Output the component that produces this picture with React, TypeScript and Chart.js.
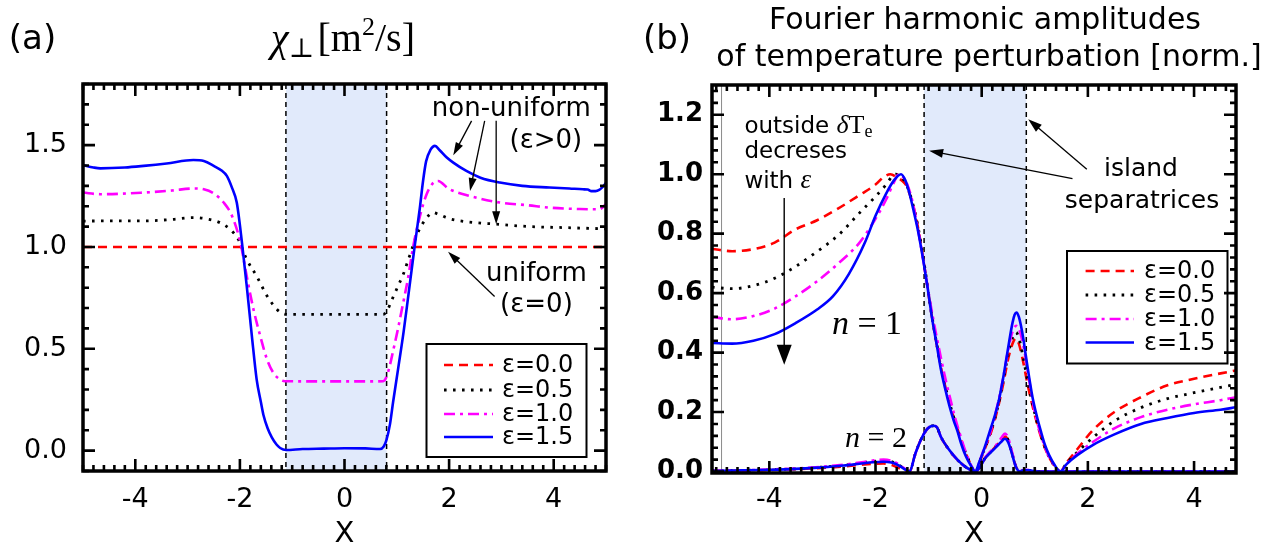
import React, { useEffect, useRef } from 'react';
import { Chart, registerables } from 'chart.js';

Chart.register(...registerables);

const SANS = '"DejaVu Sans", "Noto Sans", sans-serif';
const SERIF = '"Liberation Serif", "DejaVu Serif", serif';

// ---------------- shared ----------------
const xTickValues = [-4, -2, 0, 2, 4];
const legendLabels = ['ε=0.0', 'ε=0.5', 'ε=1.0', 'ε=1.5'];
const seriesColors = ['#ff0000', '#000000', '#ff00ff', '#0000ff'];
const seriesDash: number[][] = [[9, 6], [2.6, 6.4], [11, 5, 3, 5], []];
const seriesWidth = [2.6, 2.8, 2.6, 2.6];

// ---------------- panel (a): chi_perp ----------------
const aXRange = [-5, 5];
const aYRange = [-0.1, 1.8];
const aYTickValues = [0, 0.5, 1.0, 1.5];
const aIsland = [-1.12, 0.805];

const aX_e00 = [-5, 5];
const aY_e00 = [1.0, 1.0];

const aX_e05 = [-5, -4.4, -3.84, -3.3, -2.89, -2.6, -2.38, -2.19, -2.03, -1.87, -1.68, -1.48, -1.29, -1.17, -1.1, -0.5, 0, 0.5, 0.74, 0.82, 0.9, 1.01, 1.13, 1.21, 1.29, 1.36, 1.44, 1.55, 1.69, 1.8, 1.99, 2.3, 2.9, 3.54, 4.2, 5];
const aY_e05 = [1.127, 1.128, 1.128, 1.135, 1.144, 1.136, 1.119, 1.087, 1.037, 0.939, 0.857, 0.759, 0.693, 0.672, 0.669, 0.669, 0.669, 0.669, 0.669, 0.69, 0.737, 0.8, 0.87, 0.93, 0.99, 1.045, 1.09, 1.135, 1.169, 1.16, 1.14, 1.125, 1.112, 1.1, 1.095, 1.089];

const aX_e10 = [-5, -4.67, -3.84, -3.3, -2.89, -2.69, -2.5, -2.31, -2.15, -1.99, -1.87, -1.74, -1.61, -1.48, -1.36, -1.23, -1.14, -0.5, 0, 0.5, 0.74, 0.8, 0.86, 0.93, 1.01, 1.11, 1.21, 1.32, 1.44, 1.57, 1.68, 1.79, 1.99, 2.4, 2.97, 3.5, 3.92, 4.5, 4.87, 5];
const aY_e10 = [1.267, 1.259, 1.267, 1.277, 1.287, 1.283, 1.263, 1.218, 1.152, 1.021, 0.857, 0.693, 0.562, 0.447, 0.382, 0.349, 0.341, 0.34, 0.34, 0.34, 0.341, 0.36, 0.411, 0.49, 0.583, 0.71, 0.84, 1.011, 1.149, 1.259, 1.31, 1.324, 1.286, 1.25, 1.218, 1.205, 1.193, 1.186, 1.185, 1.21];

const aX_e15 = [-5, -4.8, -4.67, -4.2, -3.84, -3.4, -2.89, -2.69, -2.5, -2.35, -2.25, -2.15, -2.06, -1.96, -1.87, -1.77, -1.68, -1.6, -1.55, -1.47, -1.39, -1.3, -1.23, -1.12, -0.8, -0.4, 0, 0.4, 0.68, 0.75, 0.8, 0.87, 0.93, 1.03, 1.13, 1.21, 1.29, 1.34, 1.44, 1.5, 1.56, 1.64, 1.73, 1.82, 1.95, 2.08, 2.33, 2.6, 2.97, 3.4, 3.92, 4.3, 4.56, 4.65, 4.72, 4.8, 4.87, 4.95, 5];
const aY_e15 = [1.401, 1.39, 1.386, 1.39, 1.398, 1.41, 1.427, 1.422, 1.398, 1.375, 1.349, 1.29, 1.218, 1.02, 0.81, 0.56, 0.35, 0.24, 0.175, 0.11, 0.065, 0.03, 0.013, 0.003, 0.008, 0.01, 0.012, 0.011, 0.008, 0.02, 0.05, 0.13, 0.24, 0.41, 0.583, 0.74, 0.9, 1.0, 1.19, 1.32, 1.42, 1.475, 1.496, 1.475, 1.44, 1.414, 1.373, 1.34, 1.316, 1.3, 1.292, 1.287, 1.283, 1.282, 1.274, 1.274, 1.28, 1.298, 1.315];

// ---------------- panel (b): Fourier harmonic amplitudes ----------------
const bXRange = [-5.08, 4.79];
const bYRange = [-0.005, 1.3];
const bYTickValues = [0, 0.2, 0.4, 0.6, 0.8, 1.0, 1.2];
const bIsland = [-1.085, 0.84];
const bLeftEdgeLine = -4.9;

// n = 1
const bX1_e00 = [-5.08, -4.7, -4.3, -3.9, -3.5, -3.1, -2.7, -2.3, -2.0, -1.85, -1.72, -1.6, -1.5, -1.43, -1.35, -1.25, -1.15, -1.05, -0.95, -0.85, -0.75, -0.65, -0.55, -0.45, -0.35, -0.25, -0.12, 0.0, 0.1, 0.2, 0.3, 0.4, 0.5, 0.58, 0.64, 0.7, 0.78, 0.88, 1.0, 1.12, 1.25, 1.38, 1.48, 1.6, 1.8, 2.1, 2.5, 3.0, 3.5, 4.0, 4.5, 4.79];
const bY1_e00 = [0.749, 0.741, 0.748, 0.77, 0.815, 0.845, 0.885, 0.93, 0.965, 0.99, 1.0, 0.99, 0.978, 0.965, 0.93, 0.865, 0.77, 0.655, 0.535, 0.43, 0.335, 0.26, 0.195, 0.14, 0.085, 0.04, 0.0, 0.05, 0.095, 0.145, 0.21, 0.29, 0.38, 0.43, 0.448, 0.43, 0.37, 0.28, 0.19, 0.115, 0.055, 0.017, 0.0, 0.03, 0.075, 0.14, 0.2, 0.25, 0.29, 0.312, 0.33, 0.34];

const bX1_e05 = [-5.08, -4.7, -4.3, -3.9, -3.5, -3.1, -2.7, -2.3, -2.0, -1.8, -1.7, -1.62, -1.52, -1.43, -1.35, -1.25, -1.15, -1.05, -0.95, -0.85, -0.75, -0.65, -0.55, -0.45, -0.35, -0.25, -0.12, 0.0, 0.1, 0.2, 0.3, 0.4, 0.5, 0.58, 0.645, 0.7, 0.78, 0.88, 1.0, 1.12, 1.25, 1.38, 1.48, 1.6, 1.8, 2.1, 2.5, 3.0, 3.5, 4.0, 4.5, 4.79];
const bY1_e05 = [0.62, 0.615, 0.625, 0.65, 0.69, 0.74, 0.795, 0.87, 0.925, 0.965, 0.99, 1.0, 0.99, 0.97, 0.932, 0.866, 0.775, 0.66, 0.537, 0.432, 0.337, 0.261, 0.196, 0.14, 0.085, 0.04, 0.0, 0.052, 0.098, 0.15, 0.215, 0.3, 0.395, 0.45, 0.468, 0.45, 0.385, 0.29, 0.195, 0.118, 0.056, 0.017, 0.0, 0.028, 0.065, 0.115, 0.17, 0.215, 0.245, 0.265, 0.283, 0.293];

const bX1_e10 = [-5.08, -4.7, -4.3, -3.9, -3.5, -3.1, -2.7, -2.3, -2.0, -1.8, -1.66, -1.56, -1.48, -1.4, -1.3, -1.2, -1.1, -1.0, -0.9, -0.8, -0.7, -0.6, -0.5, -0.4, -0.3, -0.21, -0.12, 0.0, 0.1, 0.2, 0.3, 0.4, 0.5, 0.58, 0.65, 0.72, 0.8, 0.9, 1.0, 1.12, 1.25, 1.38, 1.48, 1.6, 1.8, 2.1, 2.5, 3.0, 3.5, 4.0, 4.5, 4.79];
const bY1_e10 = [0.52, 0.512, 0.523, 0.548, 0.59, 0.64, 0.7, 0.77, 0.85, 0.915, 0.97, 1.0, 0.99, 0.965, 0.905, 0.815, 0.71, 0.6, 0.5, 0.41, 0.325, 0.25, 0.18, 0.12, 0.065, 0.025, 0.0, 0.055, 0.1, 0.155, 0.225, 0.31, 0.41, 0.47, 0.49, 0.47, 0.41, 0.3, 0.2, 0.12, 0.057, 0.018, 0.0, 0.025, 0.06, 0.1, 0.145, 0.183, 0.208, 0.226, 0.24, 0.25];

const bX1_e15 = [-5.08, -4.7, -4.3, -3.9, -3.5, -3.1, -2.8, -2.5, -2.2, -2.0, -1.8, -1.65, -1.52, -1.44, -1.36, -1.28, -1.2, -1.1, -1.02, -0.93, -0.85, -0.77, -0.69, -0.61, -0.53, -0.455, -0.38, -0.3, -0.21, -0.12, -0.05, 0.015, 0.09, 0.17, 0.25, 0.33, 0.4, 0.456, 0.52, 0.58, 0.62, 0.656, 0.7, 0.74, 0.79, 0.83, 0.9, 0.957, 1.04, 1.115, 1.19, 1.27, 1.38, 1.48, 1.6, 1.8, 2.1, 2.5, 3.0, 3.5, 4.0, 4.5, 4.79];
const bY1_e15 = [0.432, 0.43, 0.44, 0.462, 0.5, 0.545, 0.59, 0.665, 0.77, 0.86, 0.935, 0.98, 1.0, 0.98, 0.935, 0.875, 0.81, 0.71, 0.62, 0.51, 0.43, 0.345, 0.28, 0.222, 0.173, 0.135, 0.09, 0.052, 0.022, 0.0, 0.03, 0.06, 0.1, 0.145, 0.19, 0.245, 0.31, 0.37, 0.44, 0.5, 0.527, 0.535, 0.52, 0.49, 0.44, 0.39, 0.31, 0.25, 0.185, 0.135, 0.09, 0.055, 0.02, 0.0, 0.025, 0.055, 0.09, 0.125, 0.16, 0.18, 0.197, 0.208, 0.216];

// n = 2
const bX2 = [-5.08, -4.5, -4.0, -3.5, -3.0, -2.6, -2.3, -2.05, -1.85, -1.7, -1.58, -1.47, -1.36, -1.25, -1.15, -1.05, -0.98, -0.91, -0.84, -0.77, -0.61, -0.455, -0.3, -0.12, 0.08, 0.27, 0.37, 0.44, 0.5, 0.55, 0.644, 0.72, 0.8, 0.9, 1.0, 1.2, 2.0, 3.0, 4.0, 4.79];
const bY2_e00 = [0.002, 0.003, 0.005, 0.008, 0.012, 0.017, 0.022, 0.026, 0.027, 0.022, 0.013, 0.005, 0.0, 0.06, 0.105, 0.138, 0.15, 0.154, 0.148, 0.117, 0.072, 0.039, 0.015, 0.0, 0.049, 0.085, 0.106, 0.118, 0.104, 0.075, 0.017, 0.0, 0.004, 0.003, 0.001, 0, 0, 0, 0, 0];
const bY2_e05 = [0.002, 0.004, 0.006, 0.009, 0.015, 0.021, 0.028, 0.034, 0.036, 0.033, 0.024, 0.011, 0.0, 0.06, 0.105, 0.138, 0.15, 0.154, 0.148, 0.117, 0.072, 0.039, 0.015, 0.0, 0.049, 0.085, 0.108, 0.12, 0.105, 0.076, 0.017, 0.0, 0.005, 0.004, 0.001, 0, 0, 0, 0, 0];
const bY2_e10 = [0.002, 0.004, 0.007, 0.01, 0.016, 0.023, 0.03, 0.037, 0.04, 0.036, 0.026, 0.012, 0.0, 0.06, 0.105, 0.138, 0.15, 0.154, 0.148, 0.117, 0.072, 0.039, 0.015, 0.0, 0.05, 0.088, 0.113, 0.128, 0.112, 0.08, 0.018, 0.0, 0.006, 0.005, 0.002, 0, 0, 0, 0, 0];
const bY2_e15 = [0.002, 0.004, 0.006, 0.009, 0.014, 0.02, 0.026, 0.031, 0.033, 0.03, 0.022, 0.01, 0.0, 0.06, 0.105, 0.138, 0.15, 0.154, 0.148, 0.117, 0.072, 0.039, 0.015, 0.0, 0.048, 0.082, 0.1, 0.11, 0.098, 0.072, 0.016, 0.0, 0.005, 0.004, 0.001, 0, 0, 0, 0, 0];

// ---------------- helpers ----------------
function lineDataset(xs: number[], ys: number[], i: number) {
  return {
    label: legendLabels[i],
    data: xs.map((x, k) => ({ x, y: ys[k] })),
    borderColor: seriesColors[i],
    backgroundColor: seriesColors[i],
    borderDash: seriesDash[i],
    borderWidth: seriesWidth[i],
    pointRadius: 0,
    pointHoverRadius: 0,
    fill: false,
    cubicInterpolationMode: 'monotone',
    order: 3 - i,
  };
}

type Run = { t: string; font: string; dy?: number };
function drawRuns(ctx: CanvasRenderingContext2D, runs: Run[], x: number, y: number, align: 'left' | 'center') {
  let w = 0;
  runs.forEach((r) => { ctx.font = r.font; w += ctx.measureText(r.t).width; });
  let cx = align === 'center' ? x - w / 2 : x;
  ctx.textAlign = 'left';
  ctx.textBaseline = 'alphabetic';
  runs.forEach((r) => {
    ctx.font = r.font;
    ctx.fillText(r.t, cx, y + (r.dy || 0));
    cx += ctx.measureText(r.t).width;
  });
}

function drawArrow(ctx: CanvasRenderingContext2D, x1: number, y1: number, x2: number, y2: number, hl: number, hw: number, lw: number) {
  const a = Math.atan2(y2 - y1, x2 - x1);
  const c = Math.cos(a), s = Math.sin(a);
  ctx.beginPath();
  ctx.moveTo(x1, y1);
  ctx.lineTo(x2 - c * hl * 0.8, y2 - s * hl * 0.8);
  ctx.lineWidth = lw;
  ctx.setLineDash([]);
  ctx.stroke();
  ctx.beginPath();
  ctx.moveTo(x2, y2);
  ctx.lineTo(x2 - c * hl + s * hw / 2, y2 - s * hl - c * hw / 2);
  ctx.lineTo(x2 - c * hl - s * hw / 2, y2 - s * hl + c * hw / 2);
  ctx.closePath();
  ctx.fill();
}

function tickValues(lo: number, hi: number, step: number): number[] {
  const out: number[] = [];
  const n0 = Math.ceil(lo / step - 1e-6);
  const n1 = Math.floor(hi / step + 1e-6);
  for (let i = n0; i <= n1; i++) out.push(i * step);
  return out;
}

type TickCfg = { xr: number[]; yr: number[]; xMinor: number; xMajor: number; yMinor: number; yMajor: number };
function drawFrameAndTicks(chart: any, t: TickCfg) {
  const ctx: CanvasRenderingContext2D = chart.ctx;
  const ca = chart.chartArea;
  const left = ca.left, right = ca.right, top = ca.top, bottom = ca.bottom;
  const sx = chart.scales.x;
  const sy = chart.scales.y;
  const isMaj = (v: number, m: number) => Math.abs(v / m - Math.round(v / m)) < 1e-6;
  ctx.save();
  ctx.setLineDash([]);
  ctx.strokeStyle = '#000000';
  ctx.lineWidth = 2.6;
  ctx.lineCap = 'butt';
  ctx.beginPath();
  const xv = tickValues(t.xr[0], t.xr[1], t.xMinor);
  for (let k = 0; k < xv.length; k++) {
    const v = xv[k];
    const p = sx.getPixelForValue(v);
    const L = isMaj(v, t.xMajor) ? 12 : 6;
    ctx.moveTo(p, bottom);
    ctx.lineTo(p, bottom - L);
    ctx.moveTo(p, top);
    ctx.lineTo(p, top + L);
  }
  const yv = tickValues(t.yr[0], t.yr[1], t.yMinor);
  for (let k = 0; k < yv.length; k++) {
    const v = yv[k];
    const p = sy.getPixelForValue(v);
    const L = isMaj(v, t.yMajor) ? 12 : 6;
    ctx.moveTo(left, p);
    ctx.lineTo(left + L, p);
    ctx.moveTo(right, p);
    ctx.lineTo(right - L, p);
  }
  ctx.stroke();
  ctx.lineWidth = 3.5;
  ctx.strokeRect(left, top, right - left, bottom - top);
  ctx.restore();
}

type LegendCfg = { box: number[]; rows: number[]; line: number[]; textX: number; size: number };
function drawLegend(ctx: CanvasRenderingContext2D, lg: LegendCfg) {
  ctx.save();
  const [bx, by, bw, bh] = lg.box;
  ctx.fillStyle = '#fff';
  ctx.fillRect(bx, by, bw, bh);
  ctx.strokeStyle = '#000';
  ctx.lineWidth = 2;
  ctx.setLineDash([]);
  ctx.strokeRect(bx, by, bw, bh);
  legendLabels.forEach((lab, i) => {
    const y = lg.rows[i];
    ctx.beginPath();
    ctx.strokeStyle = seriesColors[i];
    ctx.lineWidth = seriesWidth[i];
    ctx.setLineDash(seriesDash[i]);
    ctx.moveTo(lg.line[0], y);
    ctx.lineTo(lg.line[1], y);
    ctx.stroke();
    ctx.setLineDash([]);
    ctx.fillStyle = '#000';
    ctx.font = `${lg.size}px ${SANS}`;
    ctx.textAlign = 'left';
    ctx.textBaseline = 'middle';
    ctx.fillText(lab, lg.textX, y + 1);
  });
  ctx.restore();
}

function islandPlugin(island: number[], extraLine?: number) {
  return {
    id: 'islandShade',
    beforeDatasetsDraw(chart: any) {
      const { ctx, chartArea: ca, scales } = chart;
      const x0 = scales.x.getPixelForValue(island[0]);
      const x1 = scales.x.getPixelForValue(island[1]);
      ctx.save();
      ctx.fillStyle = '#e1eafb';
      ctx.fillRect(x0, ca.top, x1 - x0, ca.bottom - ca.top);
      ctx.strokeStyle = '#000';
      ctx.lineWidth = 1.5;
      ctx.setLineDash([5, 4]);
      ctx.beginPath();
      ctx.moveTo(x0, ca.top); ctx.lineTo(x0, ca.bottom);
      ctx.moveTo(x1, ca.top); ctx.lineTo(x1, ca.bottom);
      ctx.stroke();
      if (extraLine !== undefined) {
        const xe = scales.x.getPixelForValue(extraLine);
        ctx.setLineDash([]);
        ctx.strokeStyle = '#8a8a8a';
        ctx.lineWidth = 1;
        ctx.beginPath();
        ctx.moveTo(xe, ca.top); ctx.lineTo(xe, ca.bottom);
        ctx.stroke();
      }
      ctx.restore();
    },
  };
}

function axisScales(xRange: number[], yRange: number[], yTicks: number[], yAxisWidth: number, xAxisHeight: number, xPad: number, yPad: number, yBold: boolean) {
  return {
    x: {
      type: 'linear',
      position: 'bottom',
      min: xRange[0],
      max: xRange[1],
      afterBuildTicks: (s: any) => { s.ticks = xTickValues.map((v) => ({ value: v })); },
      afterFit: (s: any) => { s.height = xAxisHeight; },
      grid: { display: false, drawTicks: false },
      border: { display: false },
      ticks: { color: '#000', font: { family: SANS, size: 27 }, padding: xPad, maxRotation: 0, autoSkip: false, callback: (v: any) => String(v) },
      title: { display: true, text: 'X', color: '#000', font: { family: SANS, size: 29 }, padding: { top: 0, bottom: -4 } },
    },
    y: {
      type: 'linear',
      position: 'left',
      min: yRange[0],
      max: yRange[1],
      afterBuildTicks: (s: any) => { s.ticks = yTicks.map((v) => ({ value: v })); },
      afterFit: (s: any) => { s.width = yAxisWidth; },
      grid: { display: false, drawTicks: false },
      border: { display: false },
      ticks: { color: '#000', font: { family: SANS, size: yBold ? 26 : 27, weight: yBold ? 'bold' : 'normal' }, padding: yPad, autoSkip: false, callback: (v: any) => Number(v).toFixed(1) },
    },
  };
}

function framePlugin(t: TickCfg) {
  return {
    id: 'frameTicks',
    afterDraw(chart: any) {
      drawFrameAndTicks(chart, t);
    },
  };
}

// ---------------- chart configs ----------------
function configA(): any {
  const decor = {
    id: 'decorA',
    afterDraw(chart: any) {
      const { ctx, scales } = chart;
      const X = (v: number) => scales.x.getPixelForValue(v);
      const Y = (v: number) => scales.y.getPixelForValue(v);
      drawLegend(ctx, { box: [426.5, 344, 160, 113], rows: [365, 390, 414, 437], line: [444, 493], textX: 502, size: 24 });
      ctx.save();
      ctx.fillStyle = '#000';
      ctx.strokeStyle = '#000';
      ctx.font = `34px ${SANS}`;
      ctx.textAlign = 'center';
      ctx.textBaseline = 'middle';
      ctx.fillText('(a)', 32.5, 40);
      drawRuns(ctx, [
        { t: 'χ', font: `italic 40px ${SERIF}` },
        { t: '⊥', font: `27px ${SERIF}`, dy: 6 },
        { t: ' ', font: `14px ${SERIF}` },
        { t: '[m', font: `40px ${SERIF}` },
        { t: '2', font: `26px ${SERIF}`, dy: -16 },
        { t: '/s]', font: `40px ${SERIF}` },
      ], 343, 51, 'center');
      ctx.font = `26px ${SANS}`;
      ctx.textAlign = 'center';
      ctx.textBaseline = 'middle';
      ctx.fillText('non-uniform', X(3.19), Y(1.676));
      ctx.fillText('(ε>0)', X(3.85), Y(1.52));
      ctx.fillText('uniform', X(3.67), Y(0.868));
      ctx.fillText('(ε=0)', X(3.67), Y(0.713));
      drawArrow(ctx, X(2.43), Y(1.619), X(2.08), Y(1.45), 13, 8, 1.3);
      drawArrow(ctx, X(2.68), Y(1.619), X(2.40), Y(1.275), 13, 8, 1.3);
      drawArrow(ctx, X(2.90), Y(1.619), X(2.90), Y(1.111), 13, 8, 1.3);
      drawArrow(ctx, X(2.87), Y(0.757), X(1.98), Y(0.976), 13, 8, 1.3);
      ctx.restore();
    },
  };
  return {
    type: 'line',
    data: {
      datasets: [
        lineDataset(aX_e00, aY_e00, 0),
        lineDataset(aX_e05, aY_e05, 1),
        lineDataset(aX_e10, aY_e10, 2),
        lineDataset(aX_e15, aY_e15, 3),
      ],
    },
    options: {
      responsive: false,
      devicePixelRatio: 1,
      animation: false,
      events: [],
      layout: { padding: { top: 84, right: 34, bottom: 0, left: 0 } },
      plugins: { legend: { display: false }, tooltip: { enabled: false }, title: { display: false } },
      scales: axisScales(aXRange, aYRange, aYTickValues, 83, 77, 13, 16, false),
    },
    plugins: [islandPlugin(aIsland), decor, framePlugin({ xr: aXRange, yr: aYRange, xMinor: 0.2, xMajor: 2, yMinor: 0.1, yMajor: 0.5 })],
  };
}

function configB(): any {
  const decor = {
    id: 'decorB',
    afterDraw(chart: any) {
      const { ctx, scales } = chart;
      const X = (v: number) => scales.x.getPixelForValue(v);
      const Y = (v: number) => scales.y.getPixelForValue(v);
      drawLegend(ctx, { box: [427, 251, 160.5, 112.5], rows: [271, 295, 319, 342.5], line: [445.6, 494], textX: 504, size: 24 });
      ctx.save();
      ctx.fillStyle = '#000';
      ctx.strokeStyle = '#000';
      ctx.font = `34px ${SANS}`;
      ctx.textAlign = 'center';
      ctx.textBaseline = 'middle';
      ctx.fillText('(b)', 27, 40);
      ctx.font = `30px ${SANS}`;
      ctx.fillText('Fourier harmonic amplitudes', 345, 21);
      ctx.fillText('of temperature perturbation [norm.]', 349, 58);
      const lx = X(-4.47);
      drawRuns(ctx, [
        { t: 'outside ', font: `23px ${SANS}` },
        { t: 'δ', font: `italic 26px ${SERIF}` },
        { t: 'T', font: `26px ${SERIF}` },
        { t: 'e', font: `18px ${SERIF}`, dy: 4 },
      ], lx, Y(1.167) + 8, 'left');
      ctx.font = `23px ${SANS}`;
      ctx.textAlign = 'left';
      ctx.textBaseline = 'middle';
      ctx.fillText('decreses', lx, Y(1.073));
      drawRuns(ctx, [
        { t: 'with ', font: `23px ${SANS}` },
        { t: 'ε', font: `italic 27px ${SERIF}` },
      ], lx, Y(0.981) + 8, 'left');
      drawArrow(ctx, X(-3.72), Y(0.92), X(-3.72), Y(0.359), 20, 15, 1.4);
      drawRuns(ctx, [
        { t: 'n', font: `italic 34px ${SERIF}` },
        { t: ' = 1', font: `34px ${SERIF}` },
      ], X(-2.16), Y(0.5) + 11, 'center');
      drawRuns(ctx, [
        { t: 'n', font: `italic 30px ${SERIF}` },
        { t: ' = 2', font: `30px ${SERIF}` },
      ], X(-1.99), Y(0.117) + 10, 'center');
      ctx.font = `25px ${SANS}`;
      ctx.textAlign = 'center';
      ctx.textBaseline = 'middle';
      ctx.fillText('island', X(3.0), Y(1.015));
      ctx.fillText('separatrices', X(3.02), Y(0.907));
      drawArrow(ctx, X(1.71), Y(0.985), X(-0.99), Y(1.079), 14, 9, 1.3);
      drawArrow(ctx, X(1.98), Y(1.017), X(0.876), Y(1.185), 14, 9, 1.3);
      ctx.restore();
    },
  };
  return {
    type: 'line',
    data: {
      datasets: [
        lineDataset(bX1_e00, bY1_e00, 0),
        lineDataset(bX1_e05, bY1_e05, 1),
        lineDataset(bX1_e10, bY1_e10, 2),
        lineDataset(bX1_e15, bY1_e15, 3),
        lineDataset(bX2, bY2_e00, 0),
        lineDataset(bX2, bY2_e05, 1),
        lineDataset(bX2, bY2_e10, 2),
        lineDataset(bX2, bY2_e15, 3),
      ],
    },
    options: {
      responsive: false,
      devicePixelRatio: 1,
      animation: false,
      events: [],
      layout: { padding: { top: 85, right: 35, bottom: 0, left: 0 } },
      plugins: { legend: { display: false }, tooltip: { enabled: false }, title: { display: false } },
      scales: axisScales(bXRange, bYRange, bYTickValues, 72, 75, 11, 9, true),
    },
    plugins: [islandPlugin(bIsland, bLeftEdgeLine), decor, framePlugin({ xr: bXRange, yr: bYRange, xMinor: 0.2, xMajor: 2, yMinor: 0.04, yMajor: 0.2 })],
  };
}

export default function App() {
  const refA = useRef<HTMLCanvasElement>(null);
  const refB = useRef<HTMLCanvasElement>(null);
  useEffect(() => {
    const ca = new Chart(refA.current as HTMLCanvasElement, configA());
    const cb = new Chart(refB.current as HTMLCanvasElement, configB());
    return () => {
      ca.destroy();
      cb.destroy();
    };
  }, []);
  return (
    <div style={{ position: 'absolute', left: 0, top: 0, width: 1271, height: 548, background: '#fff', overflow: 'hidden' }}>
      <canvas ref={refA} width={640} height={548} style={{ position: 'absolute', left: 0, top: 0, width: 640, height: 548 }} />
      <canvas ref={refB} width={631} height={548} style={{ position: 'absolute', left: 640, top: 0, width: 631, height: 548 }} />
    </div>
  );
}
